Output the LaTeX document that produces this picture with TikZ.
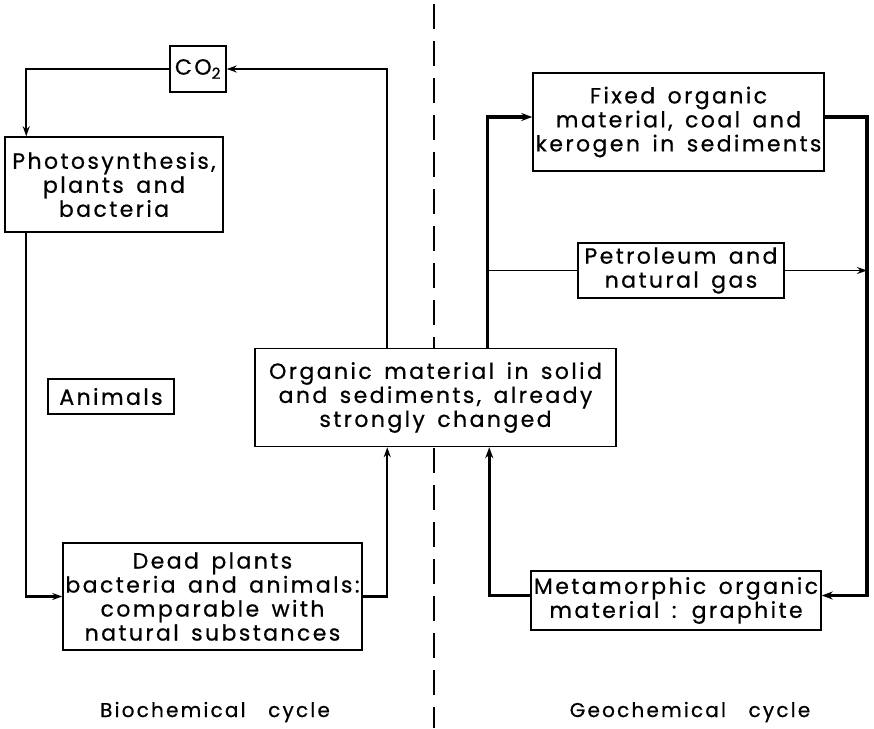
\documentclass[tikz,border=0pt]{standalone}
\usepackage{fontspec}
\setmainfont{Poppins}[LetterSpace=11, WordSpace=1.5, FakeBold=0.6]
\usetikzlibrary{arrows.meta}

\begin{document}
\begin{tikzpicture}[x=1pt, y=-1pt,
  box/.style={draw, line width=1.5pt, fill=white, align=center, inner sep=0pt,
    font=\fontsize{22}{24}\selectfont},
  link/.style={line width=2.2pt, -{Stealth[length=10pt,width=7pt]}},
  heavy/.style={line width=3.2pt, -{Stealth[length=11pt,width=8pt]}}]
\useasboundingbox (0,0) rectangle (874,728);

% dividing line
\draw[line width=1.3pt, dash pattern=on 25pt off 12pt] (434,4) -- (434,728);

\node[box, minimum width=56pt, minimum height=46pt] (co2) at (198,69) {CO\textsubscript{2}};
\node[box, minimum width=218pt, minimum height=95pt] (photo) at (114,184.5) {Photosynthesis,\\ plants and\\ bacteria};
\node[box, minimum width=126pt, minimum height=35pt] (animals) at (111,396.5) {Animals};
\node[box, minimum width=299pt, minimum height=107pt] (dead) at (212.5,596.5) {Dead plants\\ bacteria and animals:\\ comparable with\\ natural substances};
\node[box, minimum width=361pt, minimum height=98pt] (organic) at (435.5,397.5) {Organic material in solid\\ and sediments, already\\ strongly changed};

\node[box, minimum width=291pt, minimum height=98pt] (fixed) at (678.5,122) {Fixed organic\\ material, coal and\\ kerogen in sediments};
\node[box, minimum width=206pt, minimum height=55pt] (petrol) at (681,270.5) {Petroleum and\\ natural gas};
\node[box, minimum width=290pt, minimum height=59pt] (meta) at (676,600.5) {Metamorphic organic\\ material : graphite};

\coordinate (up) at ([xshift=233pt]organic.north west);
\coordinate (down) at (867,117);

% biochemical cycle
\draw[link] (co2.west) -| ([xshift=22pt]photo.north west);
\draw[link] ([xshift=22pt]photo.south west) |- (dead.west);
\draw[link] (dead.east) -| ([xshift=133pt]organic.south west);
\draw[link] ([xshift=133pt]organic.north west) |- (co2.east);

% geochemical cycle
\draw[heavy] (up) |- ([yshift=5pt]fixed.west);
\draw[heavy] ([yshift=5pt]fixed.east) -- (down) |- ([yshift=5pt]meta.east);
\draw[heavy] ([yshift=5pt]meta.west) -| ([xshift=235pt]organic.south west);
\draw[line width=1.3pt] (petrol.west) -- (petrol.west -| up);
\draw[line width=1.3pt, -{Stealth[length=10pt,width=7pt]}] (petrol.east) -- (petrol.east -| down);

\node[font=\fontsize{20}{24}\selectfont] (bio) at (215,712) {Biochemical\ \ cycle};
\node[font=\fontsize{20}{24}\selectfont] (geo) at (690,712) {Geochemical\ \ cycle};
\end{tikzpicture}
\end{document}
